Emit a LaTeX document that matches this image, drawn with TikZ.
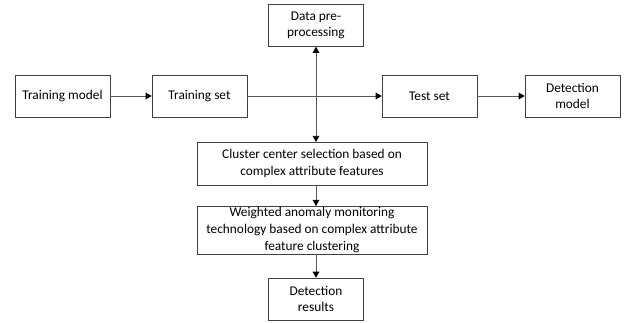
\documentclass[tikz,border=0pt]{standalone}
\usepackage{fontspec}
\setmainfont{Carlito}
\usetikzlibrary{arrows.meta}

\begin{document}
\begin{tikzpicture}[x=0.75pt,y=-0.75pt,
box/.style={draw=black!75,fill=white,align=center,minimum width=71.25pt,minimum height=31.5pt,inner sep=1pt,font=\fontsize{10}{12.5}\selectfont},
wide/.style={box,minimum width=172.5pt,minimum height=32pt},
arr/.style={-{Triangle[length=4.5pt,width=5pt,black]},draw=black!65,semithick},
dblarr/.style={{Triangle[length=4.5pt,width=5pt,black]}-{Triangle[length=4.5pt,width=5pt,black]},draw=black!65,semithick}]
\useasboundingbox (0,0) rectangle (625,322);
\node[box] (tm) at (62.5,96) {Training model};
\node[box] (ts) at (199.5,96) {Training set};
\node[box] (te) at (429.5,96) {Test set};
\node[box] (dm) at (572.5,96) {Detection\\model};
\node[box] (dp) at (316,25.5) {Data pre-\\processing};
\node[wide] (cc) at (312,163.5) {Cluster center selection based on\\complex attribute features};
\node[wide,minimum height=33pt] (wa) at (312,230) {Weighted anomaly monitoring\\technology based on complex attribute\\feature clustering};
\node[box] (dr) at (316,299) {Detection\\results};
\draw[arr] (tm) -- (ts);
\draw[arr] (ts) -- (te);
\draw[arr] (te) -- (dm);
\draw[dblarr] (dp.south) -- (dp.south |- cc.north);
\draw[arr] (cc.south -| dr) -- (wa.north -| dr);
\draw[arr] (wa.south -| dr) -- (dr);
\end{tikzpicture}
\end{document}
